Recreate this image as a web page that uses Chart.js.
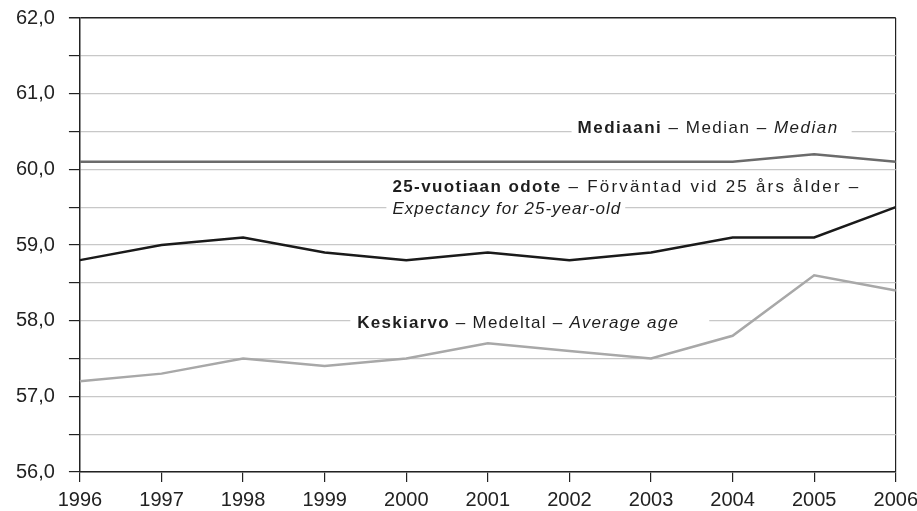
<!DOCTYPE html>
<html><head><meta charset="utf-8">
<script src="https://cdn.jsdelivr.net/npm/chart.js@4/dist/chart.umd.min.js"></script>
<style>html,body{margin:0;padding:0;background:#fff;overflow:hidden;width:917px;height:511px}#wrap{position:absolute;left:0;top:-8px;width:924px;height:519px}</style>
</head><body><div id="wrap"><canvas id="c"></canvas></div>
<script>
const years = ['1996','1997','1998','1999','2000','2001','2002','2003','2004','2005','2006'];
const median = [60.1,60.1,60.1,60.1,60.1,60.1,60.1,60.1,60.1,60.2,60.1];
const expectancy25 = [58.8,59.0,59.1,58.9,58.8,58.9,58.8,58.9,59.1,59.1,59.5];
const average = [57.2,57.3,57.5,57.4,57.5,57.7,57.6,57.5,57.8,58.6,58.4];

const FONT = '"Liberation Sans", Arial, sans-serif';
const AFS = 17;
// label anchors in data coordinates: x index, y value; segments: [text, style, letterSpacing]
const labels = [
  {x:6.1, y:60.54, padL:6, padR:13, lines:[[['Mediaani','bold',1.5],[' – Median – ','normal',1.5],['Median','italic',1.5]]]},
  {x:3.83, y:59.76, padL:6, padR:4, lineH:22, lines:[[['25-vuotiaan odote','bold',1.4],[' – Förväntad vid 25 års ålder –','normal',2.2]],[['Expectancy for 25-year-old','italic',1.0]]]},
  {x:3.4, y:57.96, padL:7, padR:30, lines:[[['Keskiarvo','bold',1.25],[' – Medeltal – ','normal',1.25],['Average age','italic',1.25]]]}
];

const annot = {
  id:'annot',
  afterDatasetsDraw(chart){
    const {ctx, scales:{x,y}} = chart;
    ctx.save();
    const seg=(s)=>{ctx.font=s[1]+' '+AFS+'px '+FONT; ctx.letterSpacing=s[2]+'px';};
    labels.forEach(l=>{
      const px = x.getPixelForValue(l.x), py = y.getPixelForValue(l.y);
      const lh = l.lineH || 22;
      let widths = l.lines.map(line=>line.reduce((w,s)=>{seg(s);return w+ctx.measureText(s[0]).width;},0));
      l.lines.forEach((line,i)=>{
        ctx.fillStyle='#fff';
        ctx.fillRect(px-l.padL, py+i*lh-10, widths[i]+l.padL+l.padR, 20);
      });
      l.lines.forEach((line,i)=>{
        let cx = px;
        line.forEach(s=>{
          seg(s);
          ctx.fillStyle='#1e1e1e';
          ctx.textBaseline='middle';
          ctx.fillText(s[0], cx, py+i*lh);
          cx += ctx.measureText(s[0]).width;
        });
      });
    });
    ctx.restore();
  }
};

new Chart(document.getElementById('c'), {
  type:'line',
  data:{labels:years, datasets:[
    {label:'Mediaani', data:median, borderColor:'#6b6b6b', borderWidth:2.5, pointRadius:0, tension:0},
    {label:'25-vuotiaan odote', data:expectancy25, borderColor:'#1a1a1a', borderWidth:2.5, pointRadius:0, tension:0},
    {label:'Keskiarvo', data:average, borderColor:'#a8a8a8', borderWidth:2.5, pointRadius:0, tension:0}
  ]},
  options:{
    responsive:true, maintainAspectRatio:false, animation:false,
    layout:{padding:{left:2,right:0,top:0,bottom:-7}},
    plugins:{legend:{display:false}, tooltip:{enabled:false}},
    scales:{
      x:{
        offset:false,
        grid:{color:c=>c.index===years.length-1?'#222':'rgba(0,0,0,0)', tickColor:'#222', tickLength:10, lineWidth:1.2},
        border:{color:'#222', width:1.5},
        ticks:{color:'#222', font:{family:FONT,size:20}, padding:6, maxRotation:0}
      },
      y:{
        min:56, max:62,
        grid:{color:c=>c.tick && c.tick.value===62?'#222':'#c8c8c8', tickColor:'#222', tickLength:11, lineWidth:c=>c.tick && c.tick.value===62?1.5:1.2},
        border:{color:'#222', width:1.5},
        ticks:{stepSize:0.5, color:'#222', font:{family:FONT,size:20}, padding:14,
          callback:v=>Number.isInteger(v)?v.toFixed(1).replace('.',','):''}
      }
    }
  },
  plugins:[annot]
});
</script></body></html>
